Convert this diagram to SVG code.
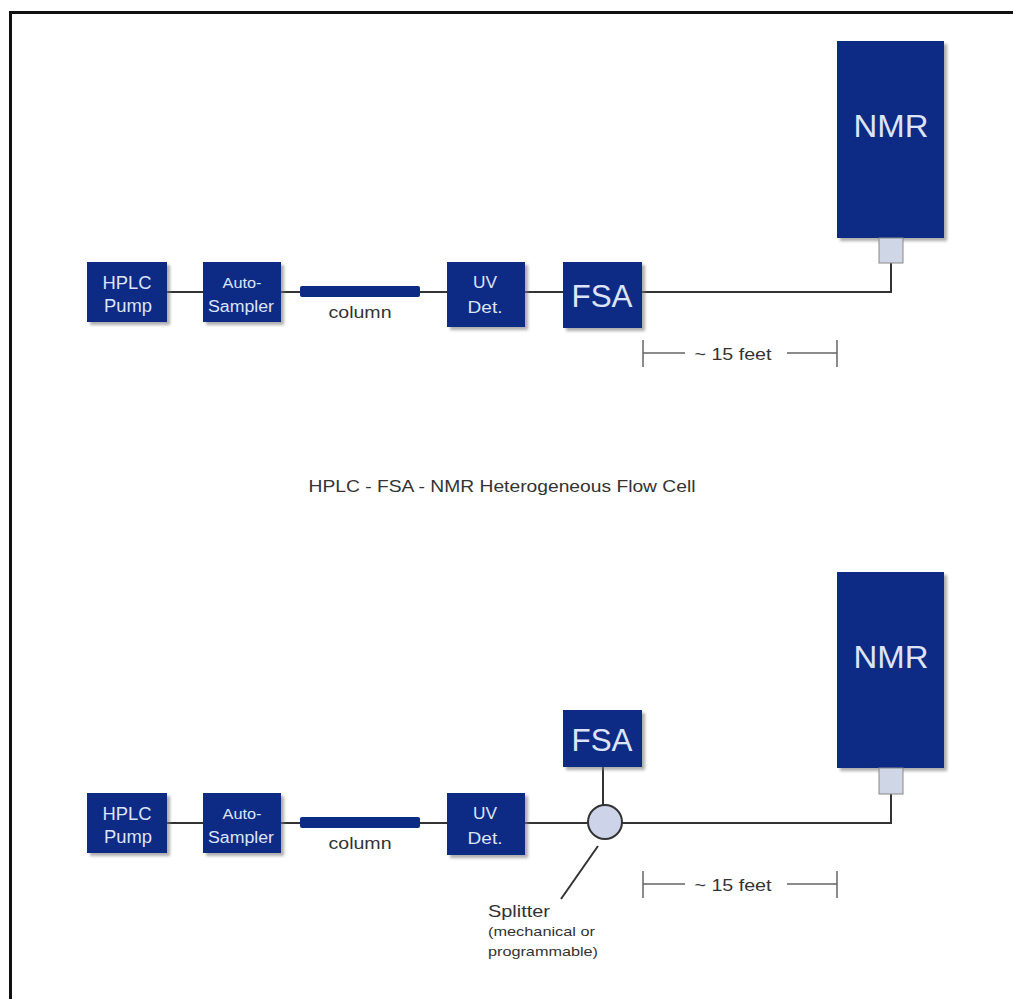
<svg xmlns="http://www.w3.org/2000/svg" width="1013" height="999" viewBox="0 0 1013 999">
<style>
.box{fill:#0b2b84;filter:url(#sh)}
.bt{fill:#dce4fa;font-family:"Liberation Sans",Arial,sans-serif;text-anchor:middle}
.ln{stroke:#333;stroke-width:2;fill:none}
.dim{stroke:#666;stroke-width:1.5;fill:none}
.lbl{fill:#333;font-family:"Liberation Sans",Arial,sans-serif}
.col{fill:#0b2b84}
.conn{fill:#cfd6e6;stroke:#888;stroke-width:1}
</style>
<defs>
<filter id="sh" x="-10%" y="-10%" width="130%" height="130%">
<feDropShadow dx="3" dy="3" stdDeviation="1.5" flood-color="#777" flood-opacity="0.6"/>
</filter>
</defs>
<rect x="10.5" y="12.5" width="1100" height="1100" fill="#fff" stroke="#111" stroke-width="3"/>

<g id="connectors">
<path class="ln" d="M167 292H203M281 292H300M420 292H447M525 292H563M642 292H891V262"/>
<path class="ln" d="M167 823H203M281 823H300M420 823H447M525 823H588M622 823H891V794M603 766V805"/>
<path class="ln" d="M598 846L561 899"/>
</g>

<g id="top-hplc"><rect class="box" x="87" y="262" width="80" height="60"/><text class="bt" x="127" y="289" font-size="18" textLength="49" lengthAdjust="spacingAndGlyphs">HPLC</text><text class="bt" x="128" y="312" font-size="18" textLength="48" lengthAdjust="spacingAndGlyphs">Pump</text></g>
<g id="top-auto"><rect class="box" x="203" y="262" width="78" height="60"/><text class="bt" x="242" y="288" font-size="15" textLength="39" lengthAdjust="spacingAndGlyphs">Auto-</text><text class="bt" x="241" y="312" font-size="16" textLength="66" lengthAdjust="spacingAndGlyphs">Sampler</text></g>
<g id="top-column"><rect class="col" x="300" y="286" width="120" height="11" rx="2"/><text class="lbl" x="360" y="318" font-size="16" text-anchor="middle" textLength="63" lengthAdjust="spacingAndGlyphs">column</text></g>
<g id="top-uv"><rect class="box" x="447" y="262" width="78" height="65"/><text class="bt" x="485" y="288" font-size="16" textLength="24" lengthAdjust="spacingAndGlyphs">UV</text><text class="bt" x="485" y="313" font-size="16" textLength="35" lengthAdjust="spacingAndGlyphs">Det.</text></g>
<g id="top-fsa"><rect class="box" x="563" y="262" width="79" height="66"/><text class="bt" x="602" y="307" font-size="31" textLength="61" lengthAdjust="spacingAndGlyphs">FSA</text></g>
<g id="top-nmr"><rect class="box" x="837" y="41" width="107" height="197"/><text class="bt" x="891" y="137" font-size="32" textLength="75" lengthAdjust="spacingAndGlyphs">NMR</text><rect class="conn" x="879" y="238" width="24" height="25"/></g>
<g id="top-dim"><path class="dim" d="M643 340V367M643 353H685M787 353H837M837 340V367"/><text class="lbl" x="733" y="360" font-size="16" text-anchor="middle" textLength="77" lengthAdjust="spacingAndGlyphs">~ 15 feet</text></g>

<g id="title"><text class="lbl" x="502" y="492" font-size="17" text-anchor="middle" textLength="387" lengthAdjust="spacingAndGlyphs" fill="#444">HPLC - FSA - NMR Heterogeneous Flow Cell</text></g>

<g id="bot-hplc"><rect class="box" x="87" y="793" width="80" height="60"/><text class="bt" x="127" y="820" font-size="18" textLength="49" lengthAdjust="spacingAndGlyphs">HPLC</text><text class="bt" x="128" y="843" font-size="18" textLength="48" lengthAdjust="spacingAndGlyphs">Pump</text></g>
<g id="bot-auto"><rect class="box" x="203" y="793" width="78" height="60"/><text class="bt" x="242" y="819" font-size="15" textLength="39" lengthAdjust="spacingAndGlyphs">Auto-</text><text class="bt" x="241" y="843" font-size="16" textLength="66" lengthAdjust="spacingAndGlyphs">Sampler</text></g>
<g id="bot-column"><rect class="col" x="300" y="817" width="120" height="11" rx="2"/><text class="lbl" x="360" y="849" font-size="16" text-anchor="middle" textLength="63" lengthAdjust="spacingAndGlyphs">column</text></g>
<g id="bot-uv"><rect class="box" x="447" y="793" width="78" height="62"/><text class="bt" x="485" y="819" font-size="16" textLength="24" lengthAdjust="spacingAndGlyphs">UV</text><text class="bt" x="485" y="844" font-size="16" textLength="35" lengthAdjust="spacingAndGlyphs">Det.</text></g>
<g id="bot-fsa"><rect class="box" x="563" y="710" width="79" height="57"/><text class="bt" x="602" y="751" font-size="31" textLength="61" lengthAdjust="spacingAndGlyphs">FSA</text></g>
<g id="splitter"><circle cx="605" cy="822" r="17" fill="#cdd4ea" stroke="#333" stroke-width="2"/><text class="lbl" x="488" y="917" font-size="17" textLength="62" lengthAdjust="spacingAndGlyphs">Splitter</text><text class="lbl" x="488" y="936" font-size="13" textLength="107" lengthAdjust="spacingAndGlyphs">(mechanical or</text><text class="lbl" x="488" y="956" font-size="13" textLength="110" lengthAdjust="spacingAndGlyphs">programmable)</text></g>
<g id="bot-nmr"><rect class="box" x="837" y="572" width="107" height="196"/><text class="bt" x="891" y="668" font-size="32" textLength="75" lengthAdjust="spacingAndGlyphs">NMR</text><rect class="conn" x="879" y="768" width="24" height="26"/></g>
<g id="bot-dim"><path class="dim" d="M643 871V898M643 884H685M787 884H837M837 871V898"/><text class="lbl" x="733" y="891" font-size="16" text-anchor="middle" textLength="77" lengthAdjust="spacingAndGlyphs">~ 15 feet</text></g>
</svg>
